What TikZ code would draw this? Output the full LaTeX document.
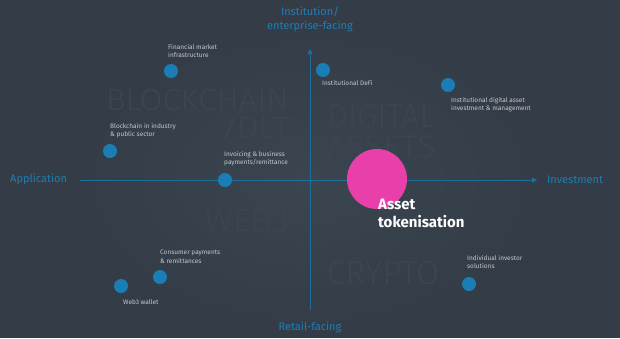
\documentclass[tikz,border=0pt]{standalone}
\usepackage{fontspec}
\usepackage{graphicx}
\setmainfont{Fira Sans}
\usetikzlibrary{arrows.meta}
\definecolor{bg}{HTML}{343D47}
\definecolor{bgin}{HTML}{3A4550}
\definecolor{axiscol}{HTML}{1D6E9C}
\definecolor{dotcol}{HTML}{1B7DB6}
\definecolor{lblcol}{HTML}{1F7DB3}
\definecolor{wmcol}{HTML}{3C4651}
\definecolor{pinkcol}{HTML}{E83FAA}
\definecolor{smallcol}{HTML}{C4C8CC}
\tikzset{
  dotnode/.style={circle,fill=dotcol,inner sep=0pt,minimum size=14pt},
  smalllbl/.style={text=smallcol,font=\fontsize{6.5}{8.5}\selectfont,align=left,inner sep=0pt},
  axlbl/.style={text=lblcol,font=\fontsize{11}{14}\selectfont,inner sep=0pt,align=center},
  wmark/.style={text=wmcol,font=\fontsize{32}{31}\selectfont\fontspec{Fira Sans Light},inner sep=0pt},
  axisline/.style={draw=axiscol,line width=0.9pt,-{Triangle[length=5pt,width=5pt]}}
}
\newcommand{\wmbox}[3]{\resizebox{#1pt}{#2pt}{#3}}
\begin{document}
\begin{tikzpicture}[x=1pt,y=-1pt]
\fill[bg] (0,0) rectangle (620,338);
\shade[inner color=bgin,outer color=bg,draw=none] (310,180) ellipse (230 and 150);
\useasboundingbox (0,0) rectangle (620,338);

% watermark words
\node[wmark,anchor=south east] (wblock) at (289,111) {\wmbox{183}{21}{BLOCKCHAIN}};
\node[wmark,anchor=south east] (wdlt) at (290,139) {\wmbox{53}{21}{DLT}};
\draw[wmcol,line width=2.2pt] (225,139) -- (234,118);
\node[wmark,anchor=south east] (wweb) at (289,232) {\wmbox{84}{22}{WEB3}};
\node[wmark,anchor=south west] (wdig) at (327,128) {\wmbox{108}{23}{DIGITAL}};
\node[wmark,anchor=south west] (wass) at (327,158) {\wmbox{108}{22}{ASSETS}};
\node[wmark,anchor=south west] (wcry) at (327,285) {\wmbox{112}{23}{CRYPTO}};

% axes
\coordinate (xl) at (80,180);
\coordinate (xr) at (537,180);
\coordinate (yb) at (310,310);
\coordinate (yt) at (310,49);
\draw[axisline] (xl) -- (xr);
\draw[axisline] (yb) -- (yt);

% axis labels
\node[axlbl,anchor=base] (top1) at (310,15) {Institution/};
\node[axlbl,anchor=base] (top2) at (310,29) {enterprise-facing};
\node[axlbl,anchor=base west] (app) at (10,182) {Application};
\node[axlbl,anchor=base west] (inv) at (547,183) {Investment};
\node[axlbl,anchor=base] (ret) at (310,330) {Retail-facing};

% dots
\node[dotnode] (fmi) at (171,71) {};
\node[dotnode] (idefi) at (323,70) {};
\node[dotnode] (idam) at (448,85) {};
\node[dotnode] (bips) at (110,151) {};
\node[dotnode] (ibp) at (225,180) {};
\node[dotnode] (cpr) at (160,277) {};
\node[dotnode] (w3w) at (121,286) {};
\node[dotnode] (iis) at (469,284) {};
\node[circle,fill=pinkcol,inner sep=0pt,minimum size=60pt] (at) at (377,179) {};

% dot labels
\node[smalllbl,anchor=north west] (lfmi) at (168,44) {Financial market\\infrastructure};
\node[smalllbl,anchor=north west] (lidefi) at (322,80) {Institutional DeFi};
\node[smalllbl,anchor=north west] (lidam) at (451,97) {Institutional digital asset\\investment \& management};
\node[smalllbl,anchor=north west] (lbips) at (110,123) {Blockchain in industry\\\& public sector};
\node[smalllbl,anchor=north west] (libp) at (224,151) {Invoicing \& business\\payments/remittance};
\node[smalllbl,anchor=north west] (lcpr) at (160,250) {Consumer payments\\\& remittances};
\node[smalllbl,anchor=north west] (lw3w) at (123,299) {Web3 wallet};
\node[smalllbl,anchor=north west] (liis) at (467,255) {Individual investor\\solutions};

\node[text=white,font=\fontsize{15}{18}\selectfont\bfseries,align=left,inner sep=0pt,anchor=base west] (lat) at (378,227) {Asset\\tokenisation};
\end{tikzpicture}
\end{document}
